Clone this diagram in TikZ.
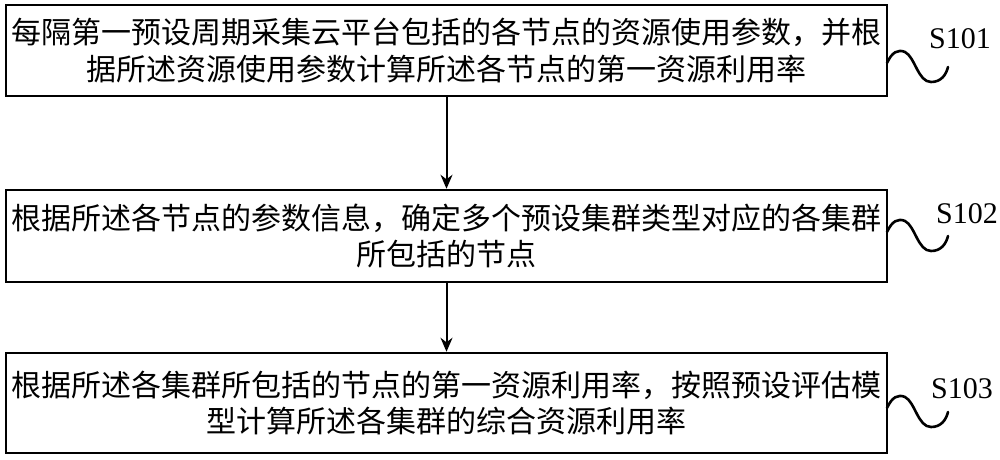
\documentclass[tikz,border=0pt]{standalone}
\usepackage{fontspec}
\setmainfont{Liberation Serif}
\newfontfamily\cjk{Noto Sans CJK SC}
\usetikzlibrary{arrows.meta}
\begin{document}
\begin{tikzpicture}[x=1pt,y=-1pt,
  stepbox/.style={draw=black,line width=2.5pt,rectangle,minimum width=881pt,inner sep=0pt,
    text width=878pt,align=center,font=\cjk\fontsize{30}{36.5}\selectfont},
  flow/.style={line width=2pt,-{Stealth[length=14pt,width=12pt]}},
  wavy/.style={line width=2.6pt,line cap=round},
  steplabel/.style={anchor=base,inner sep=0pt,font=\fontsize{30}{30}\selectfont}]
\useasboundingbox (0,0) rectangle (1000,459);
\node[stepbox,minimum height=91pt] (b1) at (446.5,50.5)
  {每隔第一预设周期采集云平台包括的各节点的资源使用参数，并根\\据所述资源使用参数计算所述各节点的第一资源利用率};
\node[stepbox,minimum height=92pt] (b2) at (446.5,236)
  {根据所述各节点的参数信息，确定多个预设集群类型对应的各集群\\所包括的节点};
\node[stepbox,minimum height=100pt] (b3) at (446.5,403)
  {根据所述各集群所包括的节点的第一资源利用率，按照预设评估模\\型计算所述各集群的综合资源利用率};
\draw[flow] (b1.south) -- (b2.north);
\draw[flow] (b2.south) -- (b3.north);
\coordinate (w1) at (887,63);
\coordinate (w2) at (887,232);
\coordinate (w3) at (887,408);
\draw[wavy] (w1) .. controls (892,52) and (898,49) .. (905,52)
   .. controls (915,57) and (918,82) .. (931,82)
   .. controls (941,82) and (946,75) .. (948,67);
\draw[wavy] (w2) .. controls (892,221) and (898,218) .. (905,221)
   .. controls (915,226) and (918,251) .. (931,251)
   .. controls (941,251) and (946,244) .. (948,236);
\draw[wavy] (w3) .. controls (892,397) and (898,394) .. (905,397)
   .. controls (915,402) and (918,427) .. (931,427)
   .. controls (941,427) and (946,420) .. (948,412);
\node[steplabel] (l1) at (960,48) {S101};
\node[steplabel] (l2) at (967,223) {S102};
\node[steplabel] (l3) at (962,398) {S103};
\end{tikzpicture}
\end{document}
